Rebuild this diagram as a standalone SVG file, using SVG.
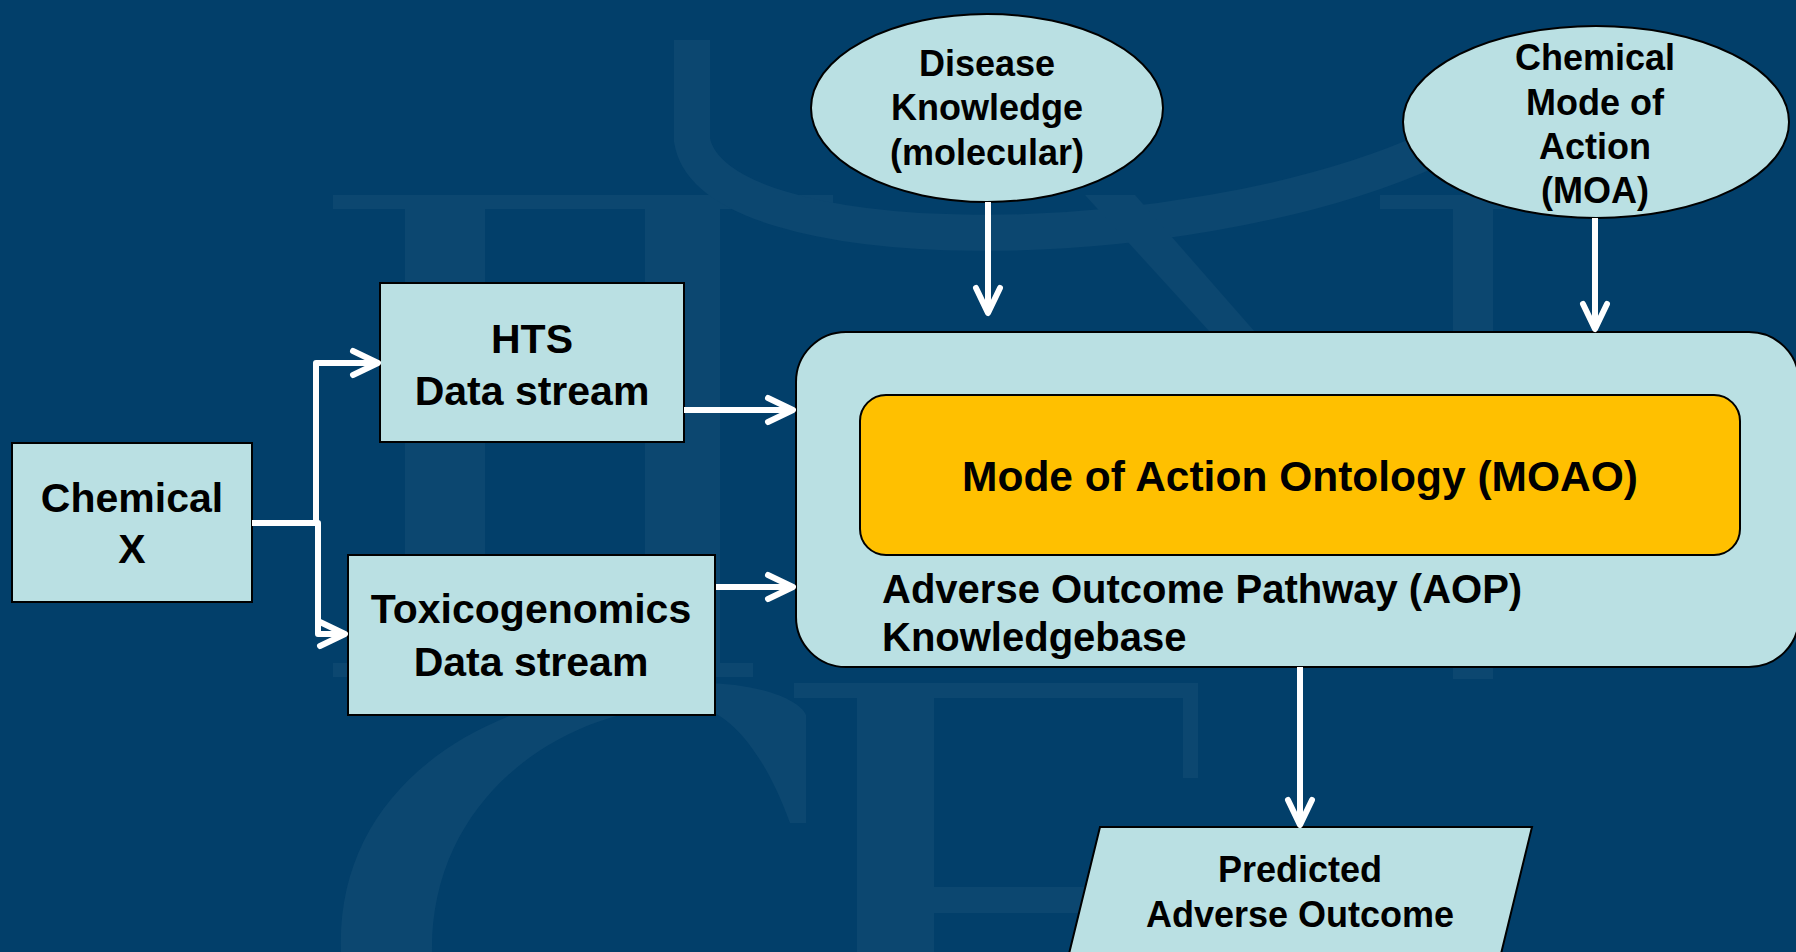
<svg xmlns="http://www.w3.org/2000/svg" width="1796" height="952" viewBox="0 0 1796 952">
  <style>
    .node { fill: #BAE0E3; stroke: #000; stroke-width: 2; }
    .core { fill: #FFC000; stroke: #000; stroke-width: 2; }
    .t { font-family: "Liberation Sans", Arial, sans-serif; font-weight: bold; fill: #000; }
    .c { text-anchor: middle; }
    .f41 { font-size: 41px; }
    .f36 { font-size: 36px; }
    .conn { fill: none; stroke: #FFFFFF; stroke-width: 6; stroke-linejoin: round; }
    .wm { fill: #0C4770; stroke: none; }
    .wms { fill: none; stroke: #0C4770; }
  </style>
  <defs>
    <marker id="arrow" markerUnits="userSpaceOnUse" viewBox="-30 -16 40 32" refX="0" refY="0" markerWidth="40" markerHeight="32" orient="auto" overflow="visible">
      <path d="M-21,-12 L4,0 L-21,12" fill="none" stroke="#FFFFFF" stroke-width="6" stroke-linecap="round" stroke-linejoin="round"/>
    </marker>
  </defs>
  <rect x="0" y="0" width="1796" height="952" fill="#023F6A"/>

  <g id="watermark">
    <rect class="wm" x="333" y="195" width="500" height="14"/>
    <rect class="wm" x="405" y="209" width="80" height="455"/>
    <rect class="wm" x="645" y="209" width="75" height="455"/>
    <rect class="wm" x="333" y="663" width="420" height="14"/>
    <path class="wms" stroke-width="36" d="M692,40 V140 C712,262 1180,262 1430,150"/>
    <polygon class="wm" points="1085,195 1135,195 1255,332 1210,332"/>
    <rect class="wm" x="1380" y="195" width="140" height="14"/>
    <rect class="wm" x="1453" y="209" width="40" height="470"/>
    <path class="wm" d="M341,952 C335,790 480,683 700,683 C760,683 800,700 806,715 L806,823 L790,823 C760,740 720,706 690,706 C560,706 430,800 432,952 Z"/>
    <rect class="wm" x="857" y="683" width="77" height="269"/>
    <rect class="wm" x="794" y="683" width="400" height="15"/>
    <rect class="wm" x="1183" y="683" width="15" height="95"/>
    <rect class="wm" x="934" y="887" width="160" height="26"/>
  </g>

  <g id="chemical-x">
    <rect class="node" x="12" y="443" width="240" height="159"/>
    <text class="t c f41" x="132" y="512">Chemical</text>
    <text class="t c f41" x="132" y="563">X</text>
  </g>
  <g id="hts">
    <rect class="node" x="380" y="283" width="304" height="159"/>
    <text class="t c f41" x="532" y="353">HTS</text>
    <text class="t c f41" x="532" y="405">Data stream</text>
  </g>
  <g id="toxicogenomics">
    <rect class="node" x="348" y="555" width="367" height="160"/>
    <text class="t c f41" x="531" y="623">Toxicogenomics</text>
    <text class="t c f41" x="531" y="676">Data stream</text>
  </g>
  <g id="disease-knowledge">
    <ellipse class="node" cx="987" cy="108" rx="176" ry="94"/>
    <text class="t c f36" x="987" y="76">Disease</text>
    <text class="t c f36" x="987" y="120">Knowledge</text>
    <text class="t c f36" x="987" y="165">(molecular)</text>
  </g>
  <g id="chemical-moa">
    <ellipse class="node" cx="1596" cy="122" rx="193" ry="96"/>
    <text class="t c f36" x="1595" y="70">Chemical</text>
    <text class="t c f36" x="1595" y="115">Mode of</text>
    <text class="t c f36" x="1595" y="159">Action</text>
    <text class="t c f36" x="1595" y="203">(MOA)</text>
  </g>
  <g id="aop-knowledgebase">
    <rect class="node" x="796" y="332" width="1003" height="335" rx="50" ry="50"/>
    <text class="t" x="882" y="603" font-size="40">Adverse Outcome Pathway (AOP)</text>
    <text class="t" x="882" y="651" font-size="40">Knowledgebase</text>
  </g>
  <g id="moao">
    <rect class="core" x="860" y="395" width="880" height="160" rx="26" ry="26"/>
    <text class="t c" x="1300" y="491" font-size="42.5">Mode of Action Ontology (MOAO)</text>
  </g>
  <g id="predicted-outcome">
    <polygon class="node" points="1100,827 1532,827 1499,962 1067,962"/>
    <text class="t c f36" x="1300" y="882">Predicted</text>
    <text class="t c f36" x="1300" y="927">Adverse Outcome</text>
  </g>

  <g id="connectors">
    <path class="conn" d="M252,523 H316 V363 H374" marker-end="url(#arrow)"/>
    <path class="conn" d="M316,523 H318 V634 H341" marker-end="url(#arrow)"/>
    <path class="conn" d="M684,410 H789" marker-end="url(#arrow)"/>
    <path class="conn" d="M716,587 H789" marker-end="url(#arrow)"/>
    <path class="conn" d="M988,202 V309" marker-end="url(#arrow)"/>
    <path class="conn" d="M1595,218 V325" marker-end="url(#arrow)"/>
    <path class="conn" d="M1300,667 V821" marker-end="url(#arrow)"/>
  </g>
</svg>
